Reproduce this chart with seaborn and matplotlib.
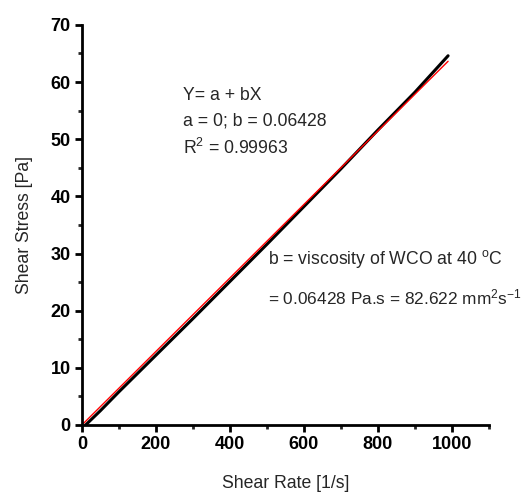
import matplotlib
matplotlib.use("Agg")
import matplotlib.pyplot as plt
from matplotlib.ticker import MultipleLocator
import seaborn as sns
import pandas as pd

shear_rate = [10, 50, 100, 150, 200, 300, 400, 500, 600, 700, 800, 900, 990]
shear_stress = [0.0, 2.5, 5.8, 9.0, 12.2, 18.6, 25.1, 31.6, 38.2, 44.8, 51.6, 58.2, 64.6]
fit_x = [0, 990]
slope_b = 0.06428
fit_y = [slope_b * v for v in fit_x]

sns.set_style("ticks")
plt.rcParams['font.family'] = ['Liberation Sans', 'DejaVu Sans']
plt.rcParams['mathtext.fontset'] = 'custom'
plt.rcParams['mathtext.rm'] = 'Liberation Sans'
plt.rcParams['mathtext.it'] = 'Liberation Sans:italic'

fig = plt.figure(figsize=(5.25, 4.98), dpi=100)
ax = fig.add_axes([0.156, 0.1466, 0.775, 0.8034])

df = pd.DataFrame({"x": shear_rate, "y": shear_stress})
dfit = pd.DataFrame({"x": fit_x, "y": fit_y})
sns.lineplot(data=df, x="x", y="y", ax=ax, color="black", lw=2.2)
sns.lineplot(data=dfit, x="x", y="y", ax=ax, color="red", lw=1.0)

ax.set_xlim(0, 1100)
ax.set_ylim(0, 70)
ax.xaxis.set_major_locator(MultipleLocator(200))
ax.xaxis.set_minor_locator(MultipleLocator(100))
ax.yaxis.set_major_locator(MultipleLocator(10))
ax.yaxis.set_minor_locator(MultipleLocator(5))
for s in ["top", "right"]:
    ax.spines[s].set_visible(False)
for s in ["left", "bottom"]:
    ax.spines[s].set_linewidth(2)
    ax.spines[s].set_color("black")
ax.tick_params(which="major", length=5, width=2, direction="out", labelsize=13, colors="black", pad=3)
ax.tick_params(which="minor", length=3, width=2, direction="out")
for lab in ax.get_xticklabels() + ax.get_yticklabels():
    lab.set_fontweight("bold")

ax.set_xlabel("Shear Rate [1/s]", fontsize=12.7, labelpad=16)
ax.set_ylabel("Shear Stress [Pa]", fontsize=12.7, labelpad=13)

fs = 12.7
ax.text(273, 57.7, "Y= a + bX", fontsize=fs, va="center")
ax.text(273, 53.1, "a = 0; b = 0.06428", fontsize=fs, va="center")
ax.text(273, 48.4, "R$^2$ = 0.99963", fontsize=fs, va="center")
ax.text(503, 29.0, "b = viscosity of WCO at 40 $^{\\rm o}$C", fontsize=fs, va="center")
ax.text(503, 22.4, "= 0.06428 Pa.s = 82.622 mm$^2$s$^{-1}$", fontsize=12.4, va="center")

fig.savefig("out.png", dpi=100)
